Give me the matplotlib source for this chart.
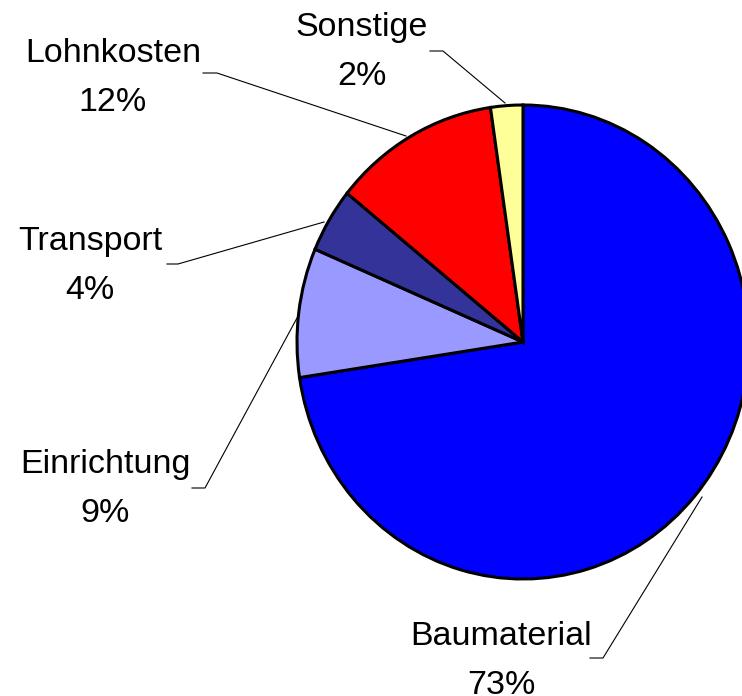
import matplotlib
matplotlib.use("Agg")
import matplotlib.pyplot as plt

# data
categories = ["Baumaterial", "Einrichtung", "Transport", "Lohnkosten", "Sonstige"]
shares     = [72.6, 8.8, 4.4, 11.9, 2.3]
colors     = ["#0000FF", "#9999FF", "#333399", "#FF0000", "#FFFF99"]

W, H = 742, 696
CX, CY = 523, 342      # pie centre in pixels (from top-left)
RX, RY = 226, 237      # pie is slightly squashed horizontally

def d(xp, yp):
    # pixel position -> data coords of the full-figure axes
    return (xp - CX) / RX, (CY - yp) / RY

# label layout: name baseline position, leader polyline (pixels)
label_pos = {
    "Sonstige":    (362, 36),
    "Lohnkosten":  (113, 62),
    "Transport":   (90, 250),
    "Einrichtung": (105, 473),
    "Baumaterial": (501, 645),
}
leaders = {
    "Sonstige":    [(430, 51), (443, 51), (505, 103)],
    "Lohnkosten":  [(203, 73), (217, 73), (406, 136)],
    "Transport":   [(167, 264), (178, 264), (324, 222)],
    "Einrichtung": [(192, 488), (205, 488), (297, 318)],
    "Baumaterial": [(590, 658), (603, 658), (702, 497)],
}

fig = plt.figure(figsize=(W / 100, H / 100), dpi=100)
ax = fig.add_axes([0, 0, 1, 1])

ax.pie(shares, colors=colors, startangle=90, counterclock=False,
       wedgeprops=dict(edgecolor="black", linewidth=2.2))
ax.set_aspect("auto")
x0, y1 = d(0, 0)
x1, y0 = d(W, H)
ax.set_xlim(x0, x1)
ax.set_ylim(y0, y1)
ax.axis("off")

total = sum(shares)
font = dict(family=["Liberation Sans", "DejaVu Sans"], fontsize=24.5, color="black")
for name, val in zip(categories, shares):
    xp, yp = label_pos[name]
    ax.text(*d(xp, yp), name, ha="center", va="baseline", **font)
    ax.text(*d(xp, yp + 49), f"{val / total * 100:.0f}%", ha="center", va="baseline", **font)
    pts = [d(px, py) for px, py in leaders[name]]
    ax.plot([p[0] for p in pts], [p[1] for p in pts], color="black", lw=0.8)

plt.savefig("out.png", dpi=100)
plt.close()
